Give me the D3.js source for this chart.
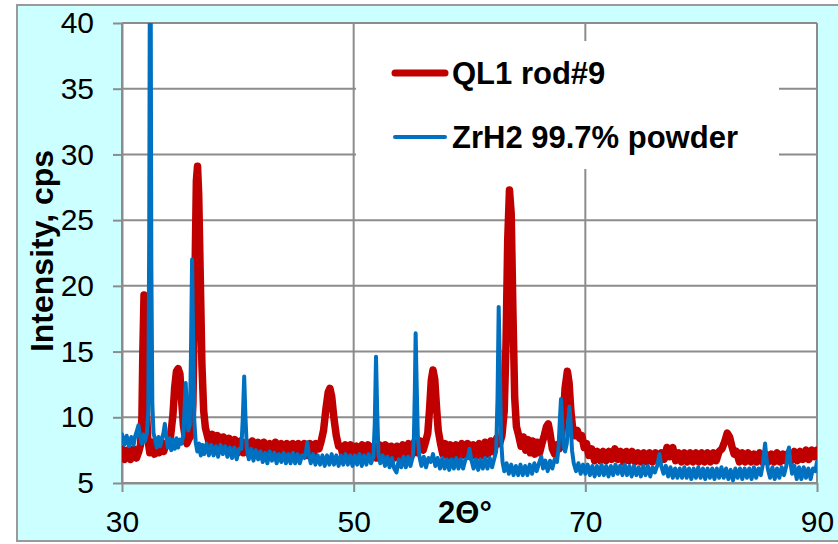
<!DOCTYPE html>
<html>
<head>
<meta charset="utf-8">
<script src="https://cdn.jsdelivr.net/npm/d3@7"></script>
<style>
  body { margin: 0; background: #fff; }
  text { font-family: "Liberation Sans", Arial, sans-serif; }
</style>
</head>
<body>
<div id="chart"></div>
<script>
// series names
const seriesNames = ["QL1 rod#9", "ZrH2 99.7% powder"];

// axis ticks
const xTicks = [30, 50, 70, 90];
const yTicks = [5, 10, 15, 20, 25, 30, 35, 40];

// QL1 rod#9  [2theta, cps]
const qlPoints = [
  [30.0,7.6],[30.25,6.8],[30.5,7.5],[30.75,6.8],[31.0,7.6],[31.25,6.9],[31.45,7.4],[31.6,7.9],[31.72,10.0],[31.8,15.0],
  [31.9,19.3],[32.0,16.5],[32.1,10.8],[32.22,8.4],[32.4,7.3],[32.6,8.1],[32.8,7.2],[33.0,8.2],[33.2,7.3],[33.4,8.1],
  [33.6,7.4],[33.8,8.0],[34.0,8.0],[34.2,8.6],[34.4,10.2],[34.55,12.3],[34.7,13.5],[34.85,13.7],[35.0,13.3],[35.15,11.2],
  [35.3,9.4],[35.45,8.5],[35.6,8.0],[35.8,8.4],[35.95,8.6],[36.12,11.0],[36.28,19.5],[36.42,28.0],[36.52,29.1],[36.62,27.0],
  [36.75,21.0],[36.9,14.0],[37.05,10.5],[37.2,9.2],[37.4,8.5],[37.6,7.8],[37.8,8.7],[38.0,7.7],[38.25,8.6],[38.5,7.6],
  [38.75,8.5],[39.0,7.5],[39.25,8.4],[39.5,7.4],[39.75,8.3],[40.0,7.3],[40.25,8.2],[40.5,7.3],[40.75,8.1],[41.0,7.2],
  [41.25,8.2],[41.5,7.3],[41.75,8.1],[42.0,7.1],[42.25,8.1],[42.5,7.3],[42.75,8.0],[43.0,7.1],[43.25,8.1],[43.5,7.2],
  [43.75,8.0],[44.0,7.1],[44.25,8.0],[44.5,7.2],[44.75,8.0],[45.0,7.0],[45.25,8.0],[45.5,7.1],[45.75,8.0],[46.0,7.1],
  [46.25,8.0],[46.5,7.1],[46.75,8.0],[47.0,7.6],[47.2,8.2],[47.4,9.0],[47.6,10.6],[47.8,11.9],[47.95,12.2],[48.1,11.6],
  [48.3,9.9],[48.5,8.6],[48.7,7.8],[48.9,7.8],[49.1,7.0],[49.3,7.9],[49.5,6.9],[49.75,7.9],[50.0,7.0],[50.25,7.8],
  [50.5,6.9],[50.75,7.9],[51.0,7.0],[51.25,7.9],[51.5,6.9],[51.75,7.8],[52.0,6.9],[52.25,7.9],[52.5,7.0],[52.75,7.9],
  [53.0,6.9],[53.25,7.8],[53.5,6.9],[53.75,7.8],[54.0,7.0],[54.25,7.9],[54.5,7.0],[54.75,8.0],[55.0,7.1],[55.25,8.1],
  [55.5,7.3],[55.75,8.2],[56.0,7.5],[56.2,8.1],[56.4,8.8],[56.55,10.6],[56.7,12.8],[56.85,13.6],[57.0,12.9],[57.15,10.8],
  [57.3,9.0],[57.5,8.0],[57.7,7.2],[57.9,8.0],[58.1,7.0],[58.35,7.9],[58.6,6.9],[58.85,7.9],[59.1,7.0],[59.35,8.0],
  [59.6,7.1],[59.85,8.0],[60.1,7.0],[60.35,7.9],[60.6,7.0],[60.85,8.0],[61.1,7.1],[61.35,8.1],[61.6,7.2],[61.85,8.2],
  [62.1,7.4],[62.35,8.4],[62.6,8.0],[62.8,8.6],[63.0,10.5],[63.15,15.5],[63.3,23.5],[63.45,27.3],[63.6,25.5],[63.75,18.0],
  [63.9,11.5],[64.05,9.3],[64.25,8.6],[64.45,7.8],[64.65,8.5],[64.85,7.5],[65.05,8.3],[65.25,7.3],[65.45,8.2],[65.65,7.2],
  [65.85,8.1],[66.05,7.3],[66.25,8.0],[66.45,8.6],[66.65,9.3],[66.8,9.5],[66.95,8.8],[67.15,7.6],[67.35,7.2],[67.55,7.9],
  [67.75,7.6],[67.95,8.6],[68.1,10.0],[68.25,12.2],[68.45,13.5],[68.6,12.6],[68.75,10.5],[68.9,9.2],[69.1,8.6],[69.3,9.0],
  [69.5,8.4],[69.7,8.6],[69.9,7.7],[70.1,8.0],[70.3,7.1],[70.55,7.6],[70.8,6.7],[71.05,7.4],[71.3,6.7],[71.55,7.4],
  [71.8,6.7],[72.05,7.4],[72.3,6.8],[72.55,7.6],[72.8,6.8],[73.05,7.4],[73.3,6.6],[73.55,7.4],[73.8,6.7],[74.05,7.4],
  [74.3,6.6],[74.55,7.3],[74.8,6.6],[75.05,7.3],[75.3,6.6],[75.55,7.3],[75.8,6.6],[76.05,7.3],[76.3,6.7],[76.55,7.3],
  [76.8,6.8],[77.05,7.7],[77.3,7.0],[77.55,7.7],[77.8,6.7],[78.05,7.3],[78.3,6.6],[78.55,7.3],[78.8,6.6],[79.05,7.3],
  [79.3,6.6],[79.55,7.3],[79.8,6.6],[80.05,7.3],[80.3,6.6],[80.55,7.3],[80.8,6.6],[81.05,7.3],[81.3,6.7],[81.55,7.4],
  [81.8,7.6],[82.05,8.2],[82.25,8.8],[82.45,8.5],[82.65,7.8],[82.85,7.2],[83.05,7.4],[83.3,6.6],[83.55,7.3],[83.8,6.6],
  [84.05,7.3],[84.3,6.6],[84.55,7.2],[84.8,6.6],[85.05,7.3],[85.3,6.6],[85.55,7.2],[85.8,6.6],[86.05,7.2],[86.3,6.6],
  [86.55,7.3],[86.8,6.6],[87.05,7.2],[87.3,6.7],[87.55,7.3],[87.8,6.7],[88.05,7.4],[88.3,6.7],[88.55,7.4],[88.8,6.8],
  [89.05,7.5],[89.3,6.8],[89.55,7.5],[89.8,7.0],[90.0,7.5]
];

// ZrH2 99.7% powder  [2theta, cps]
const zrPoints = [
  [30.0,8.7],[30.2,7.9],[30.4,8.6],[30.6,7.8],[30.8,8.5],[31.0,7.9],[31.15,8.6],[31.3,9.0],[31.42,9.4],[31.55,8.6],
  [31.7,8.0],[31.85,8.7],[32.0,8.2],[32.15,8.8],[32.27,10.5],[32.35,24],[32.41,46],[32.47,46],[32.53,22],[32.62,11],
  [32.72,8.8],[32.85,8.3],[33.0,7.7],[33.15,8.5],[33.3,7.8],[33.45,8.4],[33.58,8.8],[33.7,9.5],[33.82,8.5],[33.95,7.7],
  [34.1,8.4],[34.25,7.5],[34.4,8.3],[34.55,7.6],[34.7,8.4],[34.85,7.7],[35.0,8.3],[35.15,8.0],[35.3,8.7],[35.42,11.0],
  [35.5,12.6],[35.6,10.6],[35.72,9.0],[35.85,9.4],[35.95,14.5],[36.05,22.0],[36.14,16.0],[36.24,9.8],[36.36,8.1],[36.5,7.4],
  [36.65,8.0],[36.8,7.1],[36.95,7.9],[37.1,7.2],[37.3,8.0],[37.5,7.1],[37.7,7.9],[37.9,7.1],[38.1,7.8],[38.3,7.0],
  [38.5,7.9],[38.7,7.2],[38.9,7.8],[39.1,7.0],[39.3,7.7],[39.5,6.9],[39.7,7.7],[39.9,6.8],[40.1,7.6],[40.3,7.6],
  [40.43,10.0],[40.55,13.1],[40.66,10.0],[40.78,7.6],[40.95,6.8],[41.15,7.6],[41.35,6.7],[41.55,7.5],[41.75,6.8],[41.95,7.4],
  [42.15,6.6],[42.35,7.3],[42.55,6.5],[42.75,7.4],[42.95,6.7],[43.15,7.3],[43.35,6.5],[43.55,7.2],[43.75,6.6],[43.95,7.3],
  [44.15,6.5],[44.35,7.2],[44.55,6.5],[44.75,7.3],[44.95,6.5],[45.15,7.2],[45.35,6.5],[45.55,7.1],[45.75,6.9],[45.9,7.5],
  [46.0,8.1],[46.12,7.2],[46.3,6.5],[46.5,7.2],[46.7,6.4],[46.9,7.1],[47.1,6.4],[47.3,7.1],[47.5,6.3],[47.7,7.1],
  [47.9,6.4],[48.1,7.2],[48.3,6.4],[48.5,7.1],[48.7,6.3],[48.9,7.1],[49.1,6.4],[49.3,7.2],[49.5,6.4],[49.7,7.1],
  [49.9,6.3],[50.1,7.1],[50.3,6.4],[50.5,7.2],[50.7,6.3],[50.9,7.1],[51.1,6.4],[51.3,7.2],[51.5,6.5],[51.7,7.0],
  [51.82,9.5],[51.93,14.6],[52.03,10.5],[52.14,7.2],[52.3,6.5],[52.5,7.1],[52.7,6.3],[52.9,7.0],[53.1,6.2],[53.3,6.9],
  [53.5,6.1],[53.7,5.8],[53.9,6.8],[54.1,6.2],[54.3,7.0],[54.5,6.2],[54.7,7.0],[54.9,6.3],[55.1,7.0],[55.2,8.5],
  [55.28,12.0],[55.35,16.4],[55.44,12.5],[55.54,8.5],[55.68,7.0],[55.85,6.3],[56.05,7.0],[56.25,6.2],[56.45,6.9],[56.65,6.6],
  [56.85,7.2],[57.05,6.3],[57.25,6.9],[57.45,6.1],[57.65,6.9],[57.85,6.1],[58.05,6.8],[58.25,6.0],[58.45,6.8],[58.65,6.1],
  [58.85,6.9],[59.05,6.1],[59.25,6.8],[59.45,6.1],[59.65,6.8],[59.85,6.9],[60.0,7.6],[60.15,6.8],[60.35,6.1],[60.55,6.8],
  [60.75,6.0],[60.95,6.8],[61.15,6.1],[61.35,6.9],[61.55,6.1],[61.75,6.9],[61.95,6.2],[62.15,6.9],[62.3,7.4],[62.42,11.5],
  [62.52,18.4],[62.62,14.0],[62.72,8.5],[62.85,6.6],[63.0,5.9],[63.2,6.5],[63.4,5.7],[63.6,6.4],[63.8,5.6],[64.0,6.3],
  [64.2,5.6],[64.4,6.4],[64.6,5.6],[64.8,6.3],[65.0,5.6],[65.2,6.4],[65.4,5.7],[65.6,6.5],[65.8,5.9],[66.0,6.5],
  [66.2,7.0],[66.35,6.1],[66.55,6.7],[66.75,5.9],[66.95,6.7],[67.15,6.1],[67.35,6.8],[67.55,6.6],[67.68,7.6],[67.8,9.8],
  [67.9,11.4],[68.0,9.6],[68.12,7.8],[68.25,7.4],[68.4,8.0],[68.53,9.8],[68.63,10.8],[68.73,9.6],[68.85,7.5],[69.0,6.5],
  [69.2,5.9],[69.4,6.5],[69.6,5.7],[69.8,6.4],[70.0,5.7],[70.2,6.4],[70.4,5.6],[70.6,6.3],[70.8,5.5],[71.0,6.3],
  [71.2,5.6],[71.4,6.4],[71.6,5.6],[71.8,6.3],[72.0,5.5],[72.2,6.3],[72.4,5.6],[72.6,6.4],[72.8,5.7],[73.0,6.3],
  [73.2,5.6],[73.4,6.4],[73.6,5.6],[73.8,6.3],[74.0,5.5],[74.2,6.3],[74.4,5.6],[74.6,6.2],[74.8,5.5],[75.0,6.3],
  [75.2,5.6],[75.4,6.3],[75.6,5.5],[75.8,6.2],[76.0,5.8],[76.2,6.3],[76.4,7.2],[76.55,6.3],[76.75,5.7],[76.95,6.3],
  [77.15,5.5],[77.35,6.2],[77.55,5.4],[77.75,6.1],[77.95,5.4],[78.15,6.1],[78.35,5.4],[78.55,6.2],[78.75,5.4],[78.95,6.1],
  [79.15,5.3],[79.35,6.1],[79.55,5.4],[79.75,6.2],[79.95,5.4],[80.15,6.1],[80.35,5.3],[80.55,6.1],[80.75,5.4],[80.95,6.1],
  [81.15,5.3],[81.35,6.1],[81.55,5.4],[81.75,6.2],[81.95,5.4],[82.15,6.1],[82.35,5.3],[82.55,6.0],[82.75,5.2],[82.95,6.1],
  [83.15,5.4],[83.35,6.1],[83.55,5.3],[83.75,6.1],[83.95,5.4],[84.15,6.1],[84.35,5.3],[84.55,6.2],[84.75,5.4],[84.95,6.1],
  [85.15,5.6],[85.3,6.3],[85.42,7.2],[85.52,8.0],[85.62,7.0],[85.75,6.1],[85.95,5.4],[86.15,6.2],[86.35,5.3],[86.55,6.1],
  [86.75,5.4],[86.95,6.2],[87.15,5.6],[87.35,6.3],[87.48,7.3],[87.58,7.7],[87.7,6.6],[87.85,5.7],[88.05,6.3],[88.25,5.3],
  [88.45,6.2],[88.65,5.3],[88.85,6.2],[89.05,5.4],[89.25,6.1],[89.45,5.3],[89.65,6.1],[89.85,5.9],[90.0,6.6]
];

const colors = ["#C00000", "#0070C0"];

// set the dimensions and margins of the graph
const W = 838, H = 544;
const plot = {left: 122, right: 817, top: 23, bottom: 483};

const svg = d3.select("#chart")
  .append("svg")
    .attr("width", W)
    .attr("height", H);

// chart area background
svg.append("rect")
  .attr("x", 17).attr("y", 5)
  .attr("width", 840).attr("height", 536)
  .attr("fill", "#CCFFFF")
  .attr("stroke", "#9a9a9a")
  .attr("stroke-width", 2);

// plot area
svg.append("rect")
  .attr("x", plot.left).attr("y", plot.top)
  .attr("width", plot.right - plot.left).attr("height", plot.bottom - plot.top)
  .attr("fill", "#fff");

const x = d3.scaleLinear().domain([30, 90]).range([plot.left, plot.right]);
const y = d3.scaleLinear().domain([5, 40]).range([plot.bottom, plot.top]);

const gridColor = "#8c8c8c";

// gridlines
svg.append("g")
  .selectAll("line")
  .data(yTicks)
  .join("line")
    .attr("x1", plot.left).attr("x2", plot.right)
    .attr("y1", d => y(d)).attr("y2", d => y(d))
    .attr("stroke", gridColor).attr("stroke-width", 2);

svg.append("g")
  .selectAll("line")
  .data(xTicks)
  .join("line")
    .attr("x1", d => x(d)).attr("x2", d => x(d))
    .attr("y1", plot.top).attr("y2", plot.bottom)
    .attr("stroke", gridColor).attr("stroke-width", 2);

// Y axis
const yAxis = svg.append("g")
  .attr("transform", `translate(${plot.left},0)`)
  .call(d3.axisLeft(y).tickValues(yTicks).tickSize(9).tickPadding(19).tickSizeOuter(0));

// X axis
const xAxis = svg.append("g")
  .attr("transform", `translate(0,${plot.bottom})`)
  .call(d3.axisBottom(x).tickValues(xTicks).tickSize(9).tickPadding(19).tickSizeOuter(0));

[yAxis, xAxis].forEach(g => {
  g.select(".domain").attr("stroke", gridColor).attr("stroke-width", 2);
  g.selectAll(".tick line").attr("stroke", gridColor).attr("stroke-width", 2);
  g.selectAll(".tick text")
    .attr("fill", "#000")
    .attr("font-size", "30px")
    .attr("font-family", "Liberation Sans, Arial, sans-serif");
});

// clip the lines to the plot area
svg.append("clipPath").attr("id", "clip")
  .append("rect")
    .attr("x", plot.left).attr("y", plot.top)
    .attr("width", plot.right - plot.left).attr("height", plot.bottom - plot.top);

const line = d3.line()
  .x(d => x(d[0]))
  .y(d => y(d[1]));

const lines = svg.append("g").attr("clip-path", "url(#clip)");

lines.append("path")
  .datum(qlPoints)
  .attr("fill", "none")
  .attr("stroke", colors[0])
  .attr("stroke-width", 7.5)
  .attr("stroke-linejoin", "round")
  .attr("stroke-linecap", "round")
  .attr("d", line);

lines.append("path")
  .datum(zrPoints)
  .attr("fill", "none")
  .attr("stroke", colors[1])
  .attr("stroke-width", 4)
  .attr("stroke-linejoin", "round")
  .attr("stroke-linecap", "round")
  .attr("d", line);

// legend
svg.append("rect")
  .attr("x", 356).attr("y", 41)
  .attr("width", 423).attr("height", 128)
  .attr("fill", "#fff");

const legendRows = [
  {name: seriesNames[0], color: colors[0], width: 7, y: 73},
  {name: seriesNames[1], color: colors[1], width: 4, y: 137}
];

legendRows.forEach(r => {
  svg.append("line")
    .attr("x1", 395).attr("x2", 445)
    .attr("y1", r.y).attr("y2", r.y)
    .attr("stroke", r.color)
    .attr("stroke-width", r.width)
    .attr("stroke-linecap", "round");
  svg.append("text")
    .attr("x", 452)
    .attr("y", r.y + 11)
    .attr("font-size", "31px")
    .attr("font-weight", "bold")
    .text(r.name);
});

// Y axis title
svg.append("text")
  .attr("text-anchor", "middle")
  .attr("font-size", "32px")
  .attr("font-weight", "bold")
  .attr("transform", "translate(53,251) rotate(-90)")
  .text("Intensity, cps");

// X axis title
svg.append("text")
  .attr("text-anchor", "middle")
  .attr("font-size", "31px")
  .attr("font-weight", "bold")
  .attr("x", 465)
  .attr("y", 523)
  .text("2Θ°");
</script>
</body>
</html>
